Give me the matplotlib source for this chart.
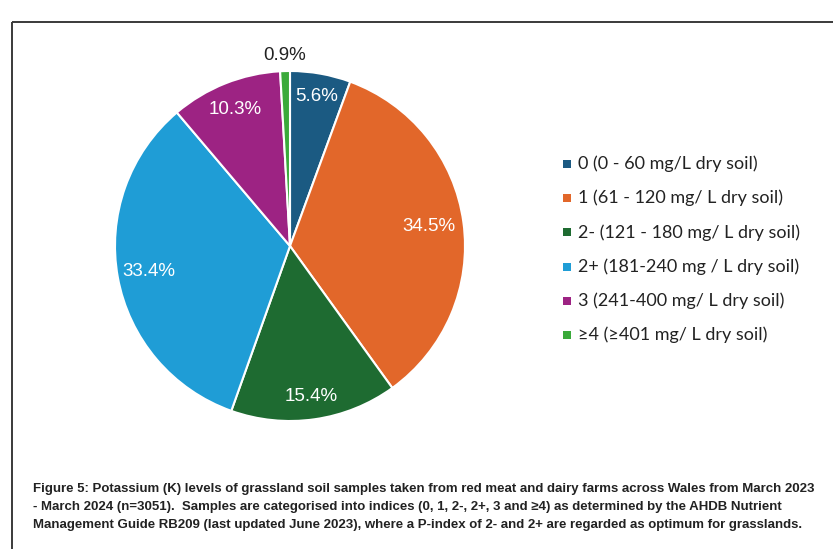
import numpy as np
import matplotlib
matplotlib.use("Agg")
import matplotlib.pyplot as plt
from matplotlib.patches import Rectangle

# K index categories and share of samples (%)
categories = [
    "0 (0 - 60 mg/L dry soil)",
    "1 (61 - 120 mg/ L dry soil)",
    "2- (121 - 180 mg/ L dry soil)",
    "2+ (181-240 mg / L dry soil)",
    "3 (241-400 mg/ L dry soil)",
    "\u22654 (\u2265401 mg/ L dry soil)",
]
shares = [5.6, 34.5, 15.4, 33.4, 10.3, 0.9]
colors = ["#1b5a82", "#e2672a", "#1e6b31", "#1f9dd6", "#9d2383", "#3aaa3a"]

caption = [
    "Figure 5: Potassium (K) levels of grassland soil samples taken from red meat and dairy farms across Wales from March 2023",
    "- March 2024 (n=3051).  Samples are categorised into indices (0, 1, 2-, 2+, 3 and \u22654) as determined by the AHDB Nutrient",
    "Management Guide RB209 (last updated June 2023), where a P-index of 2- and 2+ are regarded as optimum for grasslands.",
]

W, H = 833, 549
fig = plt.figure(figsize=(W / 100, H / 100), dpi=100)
fig.patch.set_facecolor("white")

# overlay axes in pixel coordinates for frame, legend and caption
ov = fig.add_axes([0, 0, 1, 1])
ov.set_xlim(0, W)
ov.set_ylim(H, 0)
ov.axis("off")

# chart frame (runs off the right and bottom edges)
ov.add_patch(Rectangle((12, 22), 900, 600, fill=False, edgecolor="#3a3a3a", linewidth=1.4))

# pie
cx, cy, r = 290, 246, 175
pax = fig.add_axes([(cx - r) / W, (H - cy - r) / H, 2 * r / W, 2 * r / H])
wedges, _ = pax.pie(shares, colors=colors, startangle=90, counterclock=False,
                    wedgeprops=dict(edgecolor="white", linewidth=1.5))
pax.set_xlim(-1, 1)
pax.set_ylim(-1, 1)
pax.set_aspect("equal")

label_dist = [0.87, 0.80, 0.87, 0.82, 0.84, 1.09]
label_font = ["Liberation Sans", "DejaVu Sans"]
for w, val, d in zip(wedges, shares, label_dist):
    ang = np.deg2rad((w.theta1 + w.theta2) / 2)
    x, y = d * np.cos(ang), d * np.sin(ang)
    col = "white" if d < 1 else "#222222"
    pax.text(x, y, f"{val:.1f}%", ha="center", va="center", fontsize=13.5,
             color=col, family=label_font)

# legend
leg_font = ["Lato", "DejaVu Sans"]
for i, (lab, col) in enumerate(zip(categories, colors)):
    y = 164 + i * 34.2
    ov.add_patch(Rectangle((563, y - 4), 8, 8, facecolor=col, edgecolor="none"))
    ov.text(578, y, lab, ha="left", va="center", fontsize=13, color="#222222", family=leg_font)

# caption, sized so that the first line spans the frame's text width
cap_font = ["Liberation Sans", "DejaVu Sans"]
renderer = fig.canvas.get_renderer()
probe = fig.text(0, 0, caption[0], fontsize=10, fontweight="bold", family=cap_font)
probe_w = probe.get_window_extent(renderer).width
probe.remove()
cap_size = 10 * 785 / probe_w
for i, line in enumerate(caption):
    ov.text(33, 489 + i * 18, line, ha="left", va="center", fontsize=cap_size,
            fontweight="bold", color="#222222", family=cap_font)

fig.savefig("out.png", dpi=100)
